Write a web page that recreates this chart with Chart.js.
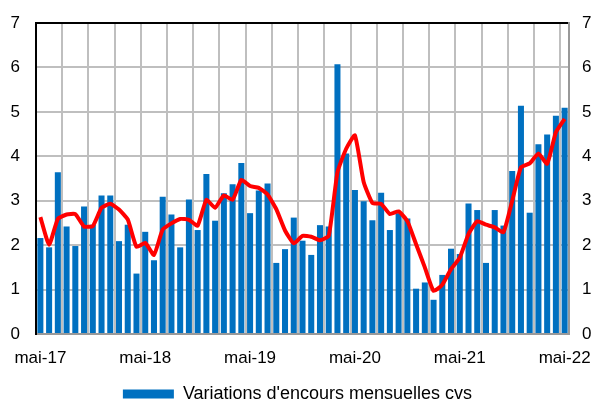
<!DOCTYPE html>
<html>
<head>
<meta charset="utf-8">
<script src="https://cdn.jsdelivr.net/npm/chart.js@4/dist/chart.umd.min.js"></script>
<style>
  html, body { margin: 0; padding: 0; background: #fff; }
  #wrap { width: 595px; height: 401px; }
</style>
</head>
<body>
<div id="wrap"><canvas id="chart" width="595" height="401"></canvas></div>
<script>
// months, mai-17 .. mai-22
const months = [
  "mai-17", "juin-17", "juil-17", "août-17", "sept-17", "oct-17", "nov-17", "déc-17",
  "janv-18", "févr-18", "mars-18", "avr-18", "mai-18", "juin-18", "juil-18", "août-18",
  "sept-18", "oct-18", "nov-18", "déc-18", "janv-19", "févr-19", "mars-19", "avr-19",
  "mai-19", "juin-19", "juil-19", "août-19", "sept-19", "oct-19", "nov-19", "déc-19",
  "janv-20", "févr-20", "mars-20", "avr-20", "mai-20", "juin-20", "juil-20", "août-20",
  "sept-20", "oct-20", "nov-20", "déc-20", "janv-21", "févr-21", "mars-21", "avr-21",
  "mai-21", "juin-21", "juil-21", "août-21", "sept-21", "oct-21", "nov-21", "déc-21",
  "janv-22", "févr-22", "mars-22", "avr-22", "mai-22"
];

// monthly changes (bars)
const monthlyChanges = [
  2.16, 1.95, 3.64, 2.42, 1.98, 2.87, 2.46, 3.12, 3.12, 2.09,
  2.46, 1.36, 2.30, 1.66, 3.09, 2.69, 1.95, 3.03, 2.34, 3.60,
  2.55, 3.17, 3.37, 3.85, 2.72, 3.23, 3.39, 1.60, 1.91, 2.62,
  2.10, 1.78, 2.45, 2.42, 6.07, 4.06, 3.24, 2.99, 2.56, 3.18,
  2.34, 2.72, 2.60, 1.02, 1.16, 0.77, 1.33, 1.92, 1.80, 2.94,
  2.79, 1.60, 2.79, 2.44, 3.67, 5.14, 2.73, 4.27, 4.49, 4.91,
  5.09
];

// smoothed line (red)
const smoothed = [
  2.63, 2.01, 2.59, 2.69, 2.70, 2.42, 2.43, 2.84, 2.93, 2.80,
  2.58, 1.96, 2.05, 1.78, 2.35, 2.49, 2.59, 2.57, 2.44, 3.02,
  2.84, 3.12, 3.02, 3.47, 3.33, 3.29, 3.14, 2.81, 2.33, 2.04,
  2.21, 2.19, 2.11, 2.21, 3.64, 4.17, 4.47, 3.42, 2.95, 2.93,
  2.70, 2.76, 2.54, 2.02, 1.50, 0.97, 1.11, 1.46, 1.72, 2.25,
  2.54, 2.46, 2.40, 2.29, 3.00, 3.75, 3.84, 4.06, 3.83, 4.54,
  4.84
];

const yTicks = [0, 1, 2, 3, 4, 5, 6, 7];

const FONT = "'Liberation Sans', Arial, sans-serif";
const GRID = "#bfbfbf";

new Chart(document.getElementById("chart"), {
  type: "bar",
  data: {
    labels: months,
    datasets: [
      {
        type: "line",
        label: "moyenne",
        data: smoothed,
        borderColor: "#ff0000",
        borderWidth: 4,
        pointRadius: 0,
        tension: 0.15,
        yAxisID: "y",
        order: 0
      },
      {
        type: "bar",
        label: "Variations d'encours mensuelles cvs",
        data: monthlyChanges,
        backgroundColor: "#0070c0",
        categoryPercentage: 1,
        barPercentage: 0.69,
        yAxisID: "y",
        order: 1
      }
    ]
  },
  options: {
    responsive: false,
    animation: false,
    layout: { padding: { top: 23, bottom: -12, left: 0, right: 0 } },
    plugins: {
      tooltip: { enabled: false },
      legend: {
        position: "bottom",
        labels: {
          filter: (item) => item.text !== "moyenne",
          boxWidth: 51,
          boxHeight: 9,
          padding: 0,
          color: "#000",
          font: { family: FONT, size: 18 }
        }
      }
    },
    scales: {
      x: {
        offset: true,
        grid: {
          offset: true,
          drawTicks: false,
          lineWidth: 2,
          color: (c) => (c.index > 0 && c.index % 3 === 0 ? GRID : "rgba(0,0,0,0)")
        },
        border: { color: "#999999", width: 2 },
        ticks: {
          autoSkip: false,
          maxRotation: 0,
          padding: 14,
          color: "#000",
          font: { family: FONT, size: 17 },
          callback: function (v, i) { return i % 12 === 0 ? months[i] : ""; }
        },
        afterFit: (s) => { s.height = 51; s.paddingLeft = 0; s.paddingRight = 0; }
      },
      xTop: {
        position: "top",
        display: true,
        grid: { display: false, drawTicks: false },
        border: { color: "#000", width: 2 },
        ticks: { display: false },
        afterFit: (s) => { s.height = 0; }
      },
      y: {
        position: "left",
        min: 0,
        max: 7,
        afterBuildTicks: (s) => { s.ticks = yTicks.map((v) => ({ value: v })); },
        grid: { color: GRID, lineWidth: 2, drawTicks: false },
        border: { color: "#000", width: 2 },
        ticks: { padding: 16, color: "#000", font: { family: FONT, size: 17 } },
        afterFit: (s) => { s.width = 36; s.paddingTop = 0; s.paddingBottom = 0; }
      },
      y2: {
        position: "right",
        min: 0,
        max: 7,
        afterBuildTicks: (s) => { s.ticks = yTicks.map((v) => ({ value: v })); },
        grid: { display: false, drawTicks: false },
        border: { color: "#999999", width: 2 },
        ticks: { padding: 13, color: "#000", font: { family: FONT, size: 17 } },
        afterFit: (s) => { s.width = 26; s.paddingTop = 0; s.paddingBottom = 0; }
      }
    }
  }
});
</script>
</body>
</html>
